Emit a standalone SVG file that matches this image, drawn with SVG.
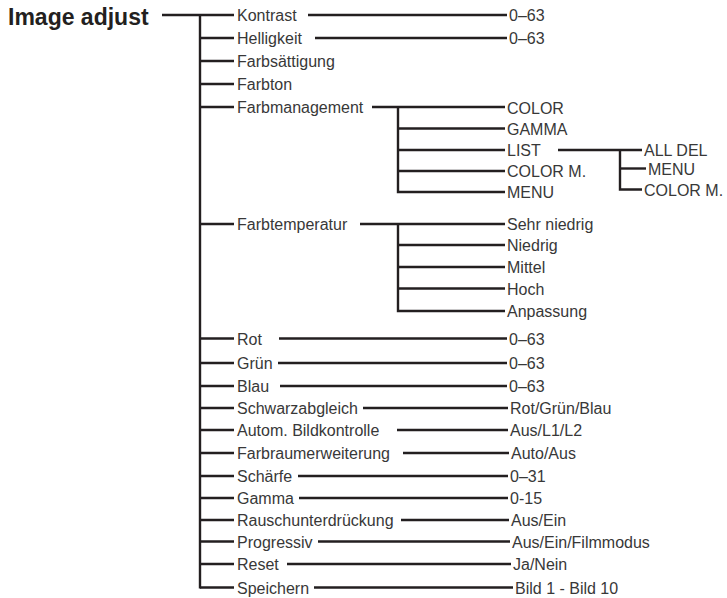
<svg xmlns="http://www.w3.org/2000/svg" width="727" height="598" viewBox="0 0 727 598">
<style>
text{font-family:"Liberation Sans",Arial,sans-serif;font-size:16px;fill:#383838}
.t{font-weight:bold;font-size:23px;fill:#231f20}
.c line,.c path{stroke:#231f20;stroke-width:2.4;fill:none;stroke-linecap:butt}
</style>
<rect width="727" height="598" fill="#fff"/>
<g class="c" id="connectors">
<line x1="162" y1="15" x2="234" y2="15"/>
<path d="M200 15V588.5"/>
<line x1="200" y1="38" x2="234" y2="38"/>
<line x1="200" y1="61" x2="234" y2="61"/>
<line x1="200" y1="84" x2="234" y2="84"/>
<line x1="200" y1="107" x2="234" y2="107"/>
<line x1="200" y1="224" x2="234" y2="224"/>
<line x1="200" y1="338.5" x2="234" y2="338.5"/>
<line x1="200" y1="363" x2="234" y2="363"/>
<line x1="200" y1="386" x2="234" y2="386"/>
<line x1="200" y1="408" x2="234" y2="408"/>
<line x1="200" y1="430" x2="234" y2="430"/>
<line x1="200" y1="453" x2="234" y2="453"/>
<line x1="200" y1="476" x2="234" y2="476"/>
<line x1="200" y1="498" x2="234" y2="498"/>
<line x1="200" y1="520" x2="234" y2="520"/>
<line x1="200" y1="541.5" x2="234" y2="541.5"/>
<line x1="200" y1="564" x2="234" y2="564"/>
<path d="M200 587.5H234"/>
<line x1="308" y1="15" x2="507" y2="15"/>
<line x1="315" y1="38" x2="507" y2="38"/>
<line x1="372" y1="107" x2="505" y2="107"/>
<path d="M398 107V192H505"/>
<line x1="398" y1="128.5" x2="505" y2="128.5"/>
<line x1="398" y1="150" x2="505" y2="150"/>
<line x1="398" y1="171" x2="505" y2="171"/>
<line x1="558" y1="150" x2="642" y2="150"/>
<path d="M620 150V189.5H642"/>
<line x1="620" y1="168.5" x2="646" y2="168.5"/>
<line x1="360" y1="224" x2="505" y2="224"/>
<path d="M398 224V311H505"/>
<line x1="398" y1="245" x2="505" y2="245"/>
<line x1="398" y1="267" x2="505" y2="267"/>
<line x1="398" y1="288.5" x2="505" y2="288.5"/>
<line x1="279" y1="338.5" x2="507" y2="338.5"/>
<line x1="278" y1="363" x2="507" y2="363"/>
<line x1="280" y1="386" x2="507" y2="386"/>
<line x1="363" y1="408" x2="508" y2="408"/>
<line x1="397" y1="430" x2="508" y2="430"/>
<line x1="403" y1="453" x2="509" y2="453"/>
<line x1="298" y1="476" x2="508" y2="476"/>
<line x1="299" y1="498" x2="508" y2="498"/>
<line x1="401" y1="520" x2="509" y2="520"/>
<line x1="318" y1="541.5" x2="510" y2="541.5"/>
<line x1="287" y1="564" x2="511" y2="564"/>
<line x1="314" y1="587.5" x2="513" y2="587.5"/>
</g>
<g id="image-adjust"><text class="t" x="8" y="25">Image adjust</text></g>
<g id="kontrast"><text x="237" y="21">Kontrast</text></g>
<g id="kontrast-val"><text x="509" y="21">0–63</text></g>
<g id="helligkeit"><text x="237" y="44">Helligkeit</text></g>
<g id="helligkeit-val"><text x="509" y="44">0–63</text></g>
<g id="farbsaettigung"><text x="237" y="67">Farbsättigung</text></g>
<g id="farbton"><text x="237" y="90">Farbton</text></g>
<g id="farbmanagement"><text x="237" y="113">Farbmanagement</text></g>
<g id="fm-color"><text x="507" y="113.5">COLOR</text></g>
<g id="fm-gamma"><text x="507" y="134.5">GAMMA</text></g>
<g id="fm-list"><text x="507" y="156">LIST</text></g>
<g id="fm-colorm"><text x="507" y="177">COLOR M.</text></g>
<g id="fm-menu"><text x="507" y="198">MENU</text></g>
<g id="list-alldel"><text x="644" y="156">ALL DEL</text></g>
<g id="list-menu"><text x="648" y="174.5">MENU</text></g>
<g id="list-colorm"><text x="644" y="195.5">COLOR M.</text></g>
<g id="farbtemperatur"><text x="237" y="230">Farbtemperatur</text></g>
<g id="ft-sehrniedrig"><text x="507" y="230">Sehr niedrig</text></g>
<g id="ft-niedrig"><text x="507" y="251">Niedrig</text></g>
<g id="ft-mittel"><text x="507" y="273">Mittel</text></g>
<g id="ft-hoch"><text x="507" y="294.5">Hoch</text></g>
<g id="ft-anpassung"><text x="507" y="317">Anpassung</text></g>
<g id="rot"><text x="237" y="344.5">Rot</text></g>
<g id="rot-val"><text x="509" y="344.5">0–63</text></g>
<g id="gruen"><text x="237" y="369">Grün</text></g>
<g id="gruen-val"><text x="509" y="369">0–63</text></g>
<g id="blau"><text x="237" y="392">Blau</text></g>
<g id="blau-val"><text x="509" y="392">0–63</text></g>
<g id="schwarzabgleich"><text x="237" y="414">Schwarzabgleich</text></g>
<g id="schwarzabgleich-val"><text x="510" y="414">Rot/Grün/Blau</text></g>
<g id="autom"><text x="237" y="436">Autom. Bildkontrolle</text></g>
<g id="autom-val"><text x="510" y="436">Aus/L1/L2</text></g>
<g id="farbraum"><text x="237" y="459">Farbraumerweiterung</text></g>
<g id="farbraum-val"><text x="511" y="459">Auto/Aus</text></g>
<g id="schaerfe"><text x="237" y="482">Schärfe</text></g>
<g id="schaerfe-val"><text x="510" y="482">0–31</text></g>
<g id="gamma"><text x="237" y="504">Gamma</text></g>
<g id="gamma-val"><text x="510" y="504">0-15</text></g>
<g id="rausch"><text x="237" y="526">Rauschunterdrückung</text></g>
<g id="rausch-val"><text x="511" y="526">Aus/Ein</text></g>
<g id="progressiv"><text x="237" y="547.5">Progressiv</text></g>
<g id="progressiv-val"><text x="512" y="547.5">Aus/Ein/Filmmodus</text></g>
<g id="reset"><text x="237" y="570">Reset</text></g>
<g id="reset-val"><text x="513" y="570">Ja/Nein</text></g>
<g id="speichern"><text x="237" y="593.5">Speichern</text></g>
<g id="speichern-val"><text x="515" y="593.5">Bild 1 - Bild 10</text></g>
</svg>
